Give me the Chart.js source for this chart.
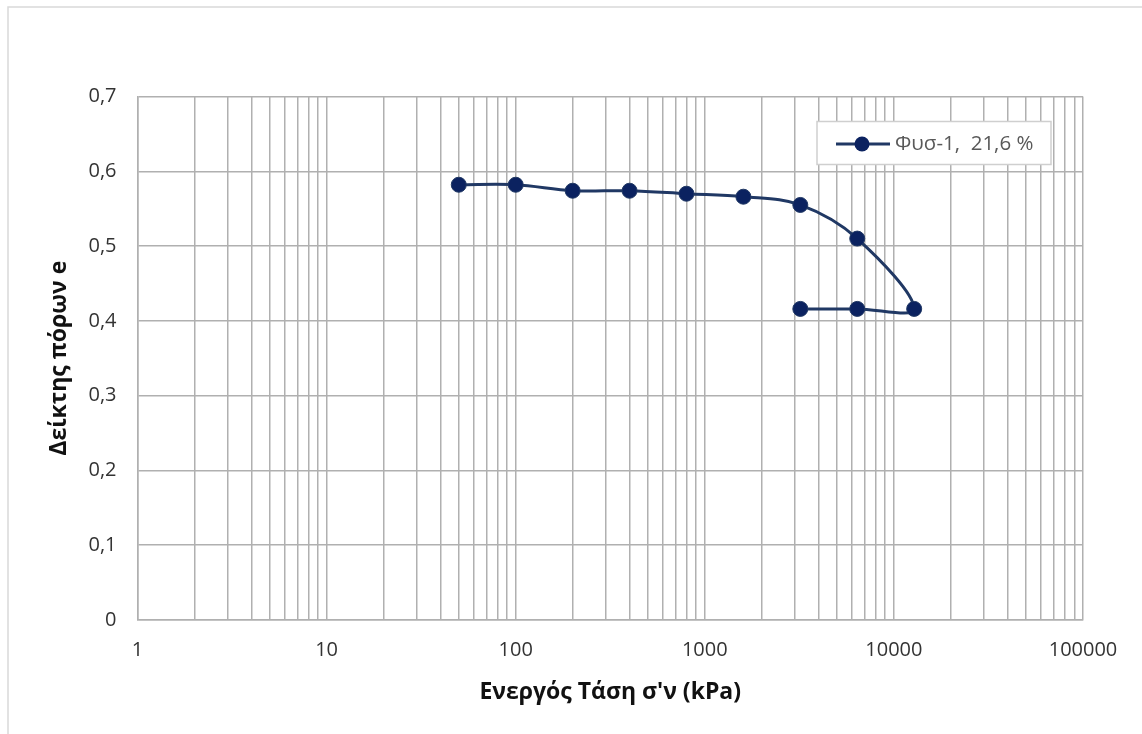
<!DOCTYPE html>
<html>
<head>
<meta charset="utf-8">
<script src="https://cdn.jsdelivr.net/npm/chart.js@4/dist/chart.umd.min.js"></script>
<style>
  html, body { margin: 0; padding: 0; background: #ffffff; }
  #wrap { width: 1142px; height: 734px; position: relative; }
</style>
</head>
<body>
<div id="wrap"><canvas id="c" width="1142" height="734"></canvas></div>
<script>
// Oedometer test: effective stress (kPa) vs void ratio e
const seriesLabel = 'Φυσ-1,  21,6 %';
const stress = [50, 100, 200, 400, 800, 1600, 3200, 6400, 12800, 6400, 3200];
const voidRatio = [0.582, 0.582, 0.574, 0.574, 0.570, 0.566, 0.555, 0.510, 0.416, 0.416, 0.416];

const xTitle = "Ενεργός Τάση σ'ν (kPa)";
const yTitle = 'Δείκτης πόρων e';

const xDecades = [1, 10, 100, 1000, 10000, 100000];
const xDecadeLabels = ['1', '10', '100', '1000', '10000', '100000'];
const yTickValues = [0, 0.1, 0.2, 0.3, 0.4, 0.5, 0.6, 0.7];
const yTickLabels = ['0', '0,1', '0,2', '0,3', '0,4', '0,5', '0,6', '0,7'];

const lineColor = '#203864';
const markerColor = '#0b2260';
const gridColor = '#b0b0b0';

const points = stress.map((s, i) => ({ x: s, y: voidRatio[i] }));

// log grid: every integer multiple within each decade
function logGridTicks() {
  const ticks = [];
  for (let d = 0; d < xDecades.length - 1; d++) {
    for (let m = 1; m <= 9; m++) {
      const v = xDecades[d] * m;
      ticks.push({ value: v, major: m === 1 });
    }
  }
  ticks.push({ value: xDecades[xDecades.length - 1], major: true });
  return ticks;
}

// outer frame of the chart object
const framePlugin = {
  id: 'frame',
  beforeDraw(chart) {
    const ctx = chart.ctx;
    ctx.save();
    ctx.fillStyle = '#ffffff';
    ctx.fillRect(0, 0, chart.width, chart.height);
    ctx.strokeStyle = '#d9d9d9';
    ctx.lineWidth = 1.5;
    ctx.strokeRect(8, 7, chart.width + 20, chart.height + 20);
    ctx.restore();
  }
};

// boxed legend inside the plot area, top right
const boxLegend = {
  id: 'boxLegend',
  afterDatasetsDraw(chart) {
    const ctx = chart.ctx;
    const ds = chart.data.datasets[0];
    const area = chart.chartArea;
    const boxW = 234, boxH = 43;
    const bx = area.right - 32 - boxW;
    const by = area.top + 25;
    ctx.save();
    ctx.fillStyle = '#ffffff';
    ctx.fillRect(bx, by, boxW, boxH);
    ctx.strokeStyle = '#cfcfcf';
    ctx.lineWidth = 1.5;
    ctx.strokeRect(bx, by, boxW, boxH);
    const cy = by + boxH / 2 + 1;
    ctx.strokeStyle = ds.borderColor;
    ctx.lineWidth = ds.borderWidth;
    ctx.beginPath();
    ctx.moveTo(bx + 19, cy);
    ctx.lineTo(bx + 73, cy);
    ctx.stroke();
    ctx.fillStyle = ds.pointBackgroundColor;
    ctx.beginPath();
    ctx.arc(bx + 45, cy, ds.pointRadius, 0, Math.PI * 2);
    ctx.fill();
    ctx.fillStyle = '#595959';
    ctx.font = '20.5px "Open Sans"';
    ctx.textAlign = 'left';
    ctx.textBaseline = 'middle';
    ctx.fillText(ds.label, bx + 78, cy);
    ctx.restore();
  }
};

new Chart(document.getElementById('c'), {
  type: 'scatter',
  data: {
    datasets: [{
      label: seriesLabel,
      data: points,
      showLine: true,
      borderColor: lineColor,
      borderWidth: 3,
      tension: 0.35,
      pointRadius: 7.5,
      pointHoverRadius: 7.5,
      pointBackgroundColor: markerColor,
      pointBorderColor: lineColor,
      pointBorderWidth: 1
    }]
  },
  options: {
    responsive: false,
    animation: false,
    events: [],
    layout: { padding: { left: 8, top: 96.5, right: 59, bottom: 0 } },
    plugins: {
      legend: { display: false },
      tooltip: { enabled: false }
    },
    scales: {
      x: {
        type: 'logarithmic',
        position: 'bottom',
        min: 1,
        max: 100000,
        afterBuildTicks(scale) { scale.ticks = logGridTicks(); },
        afterFit(scale) { scale.height = 114; },
        grid: { color: gridColor, lineWidth: 1.5, drawTicks: false },
        border: { color: gridColor, width: 1.5 },
        ticks: {
          autoSkip: false,
          maxRotation: 0,
          padding: 18,
          color: '#333333',
          font: { family: '"Open Sans"', size: 20 },
          callback(value) {
            const i = xDecades.indexOf(value);
            return i >= 0 ? xDecadeLabels[i] : '';
          }
        },
        title: {
          display: true,
          text: xTitle,
          color: '#111111',
          font: { family: '"Open Sans"', size: 23, weight: 'bold' },
          padding: { top: 0, bottom: 28 }
        }
      },
      y: {
        position: 'left',
        min: 0,
        max: 0.7,
        afterBuildTicks(scale) { scale.ticks = yTickValues.map(v => ({ value: v })); },
        afterFit(scale) { scale.width = 129.5; },
        grid: { color: gridColor, lineWidth: 1.5, drawTicks: false },
        border: { color: gridColor, width: 1.5 },
        ticks: {
          padding: 21,
          color: '#333333',
          font: { family: '"Open Sans"', size: 20 },
          callback(value, index) { return yTickLabels[index]; }
        },
        title: {
          display: true,
          text: yTitle,
          color: '#111111',
          font: { family: '"Open Sans"', size: 23, weight: 'bold' },
          padding: { top: 38, bottom: 0 }
        }
      }
    }
  },
  plugins: [framePlugin, boxLegend]
});
</script>
</body>
</html>
